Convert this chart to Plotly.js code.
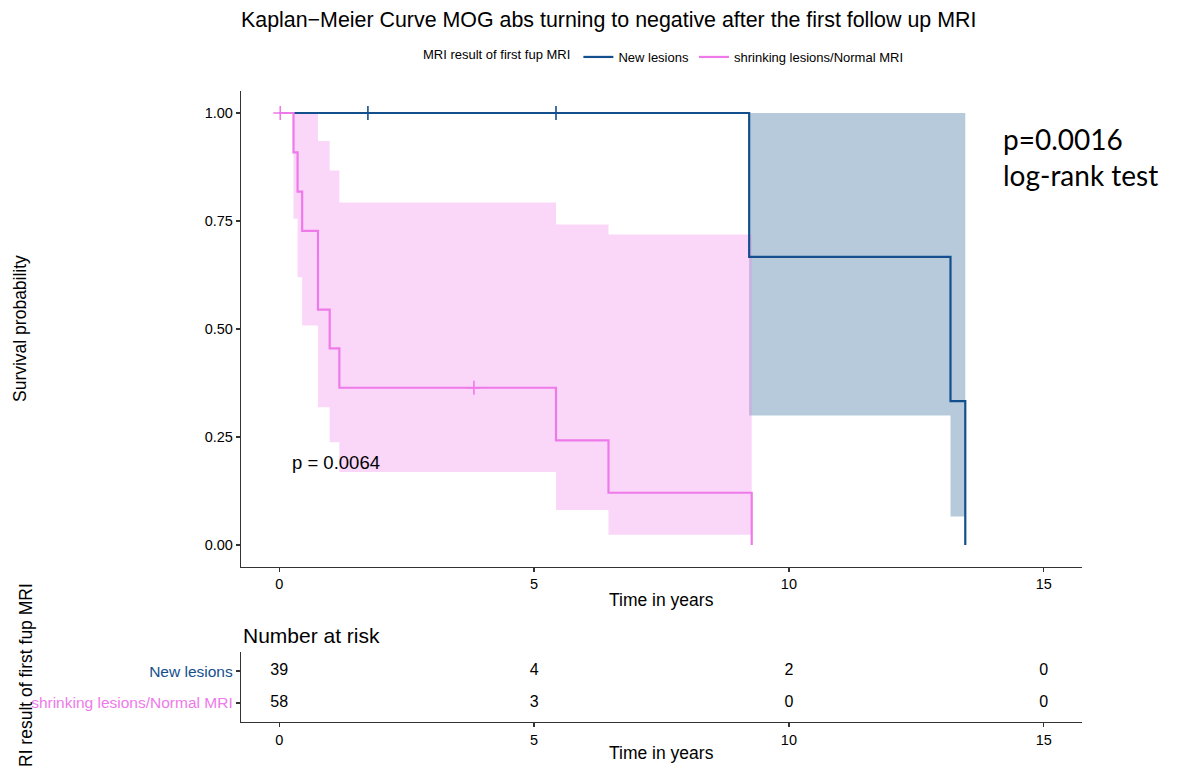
<!DOCTYPE html>
<html>
<head>
<meta charset="utf-8">
<script src="https://cdn.plot.ly/plotly-3.0.1.min.js"></script>
<style>html,body{margin:0;padding:0;background:#fff;}#chart{width:1177px;height:772px;}</style>
</head>
<body>
<div id="chart"></div>
<script>
// ---- data ----
const groups = ["New lesions", "shrinking lesions/Normal MRI"];
const colors = ["#144F8D", "#EE7AE9"];
const fills = ["rgba(16,78,139,0.3)", "rgba(238,122,233,0.3)"];

// Group 1: New lesions
const newTime = [0, 9.22, 13.17, 13.46];
const newSurv = [1, 0.667, 0.333, 0];
const newLower = [1, 0.30, 0.066, 0.066];
const newUpper = [1, 1, 1, 1];
const newCensorTime = [1.74, 5.43];
const newCensorSurv = [1, 1];

// Group 2: shrinking lesions/Normal MRI
const shrTime = [0, 0.28, 0.36, 0.45, 0.76, 0.99, 1.18, 5.43, 6.46, 9.27];
const shrSurv = [1, 0.909, 0.818, 0.727, 0.545, 0.455, 0.364, 0.242, 0.121, 0];
const shrLower = [1, 0.755, 0.620, 0.508, 0.319, 0.238, 0.169, 0.081, 0.024, 0.024];
const shrUpper = [1, 1, 1, 1, 0.935, 0.867, 0.793, 0.742, 0.719, 0.719];
const shrCensorTime = [0.02, 3.82];
const shrCensorSurv = [1, 0.364];

// Number at risk table
const riskTimes = [0, 5, 10, 15];
const riskNew = [39, 4, 2, 0];
const riskShr = [58, 3, 0, 0];

const xTicks = [0, 5, 10, 15];
const yTicks = [0, 0.25, 0.5, 0.75, 1];

const FONT = "Liberation Sans, Arial, Helvetica, sans-serif";

function band(t, lo, hi, i) {
  return [
    {x: t, y: lo, mode: "lines", line: {shape: "hv", width: 0, color: fills[i]},
     showlegend: false, hoverinfo: "skip", xaxis: "x", yaxis: "y"},
    {x: t, y: hi, mode: "lines", line: {shape: "hv", width: 0, color: fills[i]},
     fill: "tonexty", fillcolor: fills[i], showlegend: false, hoverinfo: "skip", xaxis: "x", yaxis: "y"}
  ];
}

const traces = [];
traces.push(...band(newTime, newLower, newUpper, 0));
traces.push(...band(shrTime, shrLower, shrUpper, 1));
traces.push({x: newTime, y: newSurv, mode: "lines", name: groups[0], legendgroup: "g0",
  line: {shape: "hv", width: 2.2, color: colors[0]}, xaxis: "x", yaxis: "y"});
traces.push({x: shrTime, y: shrSurv, mode: "lines", name: groups[1], legendgroup: "g1",
  line: {shape: "hv", width: 2.2, color: colors[1]}, xaxis: "x", yaxis: "y"});
traces.push({x: newCensorTime, y: newCensorSurv, mode: "markers", showlegend: false, legendgroup: "g0",
  marker: {symbol: "cross-thin", size: 10, line: {width: 1.6, color: colors[0]}}, xaxis: "x", yaxis: "y"});
traces.push({x: shrCensorTime, y: shrCensorSurv, mode: "markers", showlegend: false, legendgroup: "g1",
  marker: {symbol: "cross-thin", size: 10, line: {width: 1.6, color: colors[1]}}, xaxis: "x", yaxis: "y"});

// risk table text
traces.push({x: riskTimes, y: riskTimes.map(() => 2), text: riskNew.map(String), mode: "text",
  textfont: {family: FONT, size: 16, color: "#000"}, showlegend: false, hoverinfo: "skip", xaxis: "x2", yaxis: "y2"});
traces.push({x: riskTimes, y: riskTimes.map(() => 1), text: riskShr.map(String), mode: "text",
  textfont: {family: FONT, size: 16, color: "#000"}, showlegend: false, hoverinfo: "skip", xaxis: "x2", yaxis: "y2"});

const W = 1177, H = 772;
const xdom = [241 / W, 1082 / W];
const axisCommon = {
  showline: true, linecolor: "#333", linewidth: 1.2, ticks: "outside", ticklen: 4,
  tickcolor: "#333", tickwidth: 1.2, showgrid: false, zeroline: false,
  tickfont: {family: FONT, size: 14.5, color: "#000"}, fixedrange: true
};

const layout = {
  width: W, height: H,
  margin: {l: 0, r: 0, t: 0, b: 0},
  paper_bgcolor: "#fff", plot_bgcolor: "#fff",
  font: {family: FONT, color: "#000"},
  title: {text: "Kaplan\u2212Meier Curve MOG abs turning to negative after the first follow up MRI",
    x: 241 / W, xanchor: "left", xref: "paper", y: 1 - 20 / H, yanchor: "middle", yref: "paper",
    font: {family: FONT, size: 21.4, color: "#000"}},
  showlegend: true,
  legend: {orientation: "h", x: 665 / W, xanchor: "center", y: 1 - 57 / H, yanchor: "middle",
    title: {text: "MRI result of first fup MRI", side: "left", font: {family: FONT, size: 13}},
    font: {family: FONT, size: 13}, itemwidth: 30, bgcolor: "rgba(0,0,0,0)"},
  xaxis: Object.assign({}, axisCommon, {domain: xdom, range: [-0.75, 15.75], tickvals: xTicks, anchor: "y"}),
  yaxis: Object.assign({}, axisCommon, {domain: [1 - 566.6 / H, 1 - 91.4 / H], range: [-0.05, 1.05],
    tickvals: yTicks, tickformat: ".2f", anchor: "x"}),
  xaxis2: Object.assign({}, axisCommon, {domain: xdom, range: [-0.75, 15.75], tickvals: xTicks, anchor: "y2"}),
  yaxis2: Object.assign({}, axisCommon, {domain: [1 - 722 / H, 1 - 652 / H], range: [0.4, 2.6],
    tickvals: [2, 1],
    ticktext: ['<span style="color:' + colors[0] + '">' + groups[0] + '</span>',
               '<span style="color:' + colors[1] + '">' + groups[1] + '</span>'],
    tickfont: {family: FONT, size: 15.5}, anchor: "x2"}),
  annotations: [
    {text: "p = 0.0064", x: 0.22, y: 0.19, xref: "x", yref: "y", xanchor: "left", yanchor: "middle",
      showarrow: false, font: {family: FONT, size: 18.5, color: "#000"}},
    {text: "Survival probability", x: 20 / W, y: 1 - 329 / H, xref: "paper", yref: "paper",
      xanchor: "center", yanchor: "middle", textangle: -90, showarrow: false, font: {family: FONT, size: 17.5}},
    {text: "Time in years", x: 661.5 / W, y: 1 - 600 / H, xref: "paper", yref: "paper",
      xanchor: "center", yanchor: "middle", showarrow: false, font: {family: FONT, size: 17.5}},
    {text: "Number at risk", x: 241 / W, y: 1 - 635 / H, xref: "paper", yref: "paper",
      xanchor: "left", yanchor: "middle", showarrow: false, font: {family: FONT, size: 21}},
    {text: "Time in years", x: 661.5 / W, y: 1 - 753 / H, xref: "paper", yref: "paper",
      xanchor: "center", yanchor: "middle", showarrow: false, font: {family: FONT, size: 17.5}},
    {text: "RI result of first fup MRI", x: 26 / W, y: 1 - 675 / H, xref: "paper", yref: "paper",
      xanchor: "center", yanchor: "middle", textangle: -90, showarrow: false, font: {family: FONT, size: 17.5}},
    {text: "p=0.0016<br>log-rank test", x: 1001 / W, y: 1 - 157 / H, xref: "paper", yref: "paper",
      xanchor: "left", yanchor: "middle", align: "left", showarrow: false,
      font: {family: "Lato, sans-serif", size: 28, lineheight: 1.0}}
  ]
};

Plotly.newPlot("chart", traces, layout, {displayModeBar: false, staticPlot: true});
</script>
</body>
</html>
